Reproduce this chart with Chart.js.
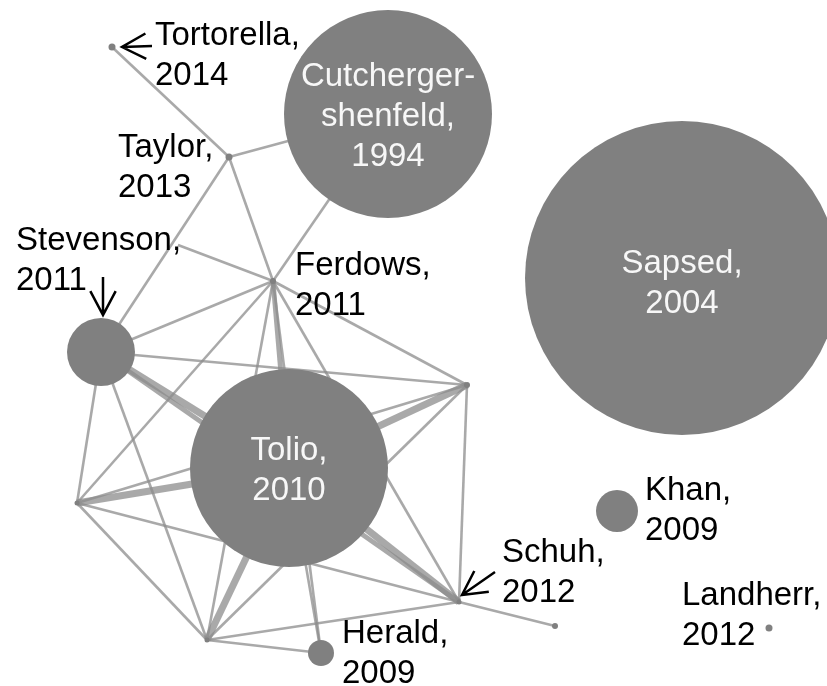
<!DOCTYPE html>
<html>
<head>
<meta charset="utf-8">
<title>Citation network</title>
<script src="https://cdn.jsdelivr.net/npm/chart.js@4.4.1/dist/chart.umd.min.js"></script>
<style>
    html, body { margin: 0; padding: 0; background: #fff; }
    canvas { display: block; }
</style>
</head>
<body>
<canvas id="network" width="827" height="686"></canvas>
<script>
// Nodes: author, year, layout position, bubble radius
var nodeNames = ["Tortorella", "Taylor", "Cutchergershenfeld", "Ferdows", "Stevenson", "Tolio", "n1", "n2", "n3", "Herald", "Schuh", "n4", "Khan", "Landherr", "Sapsed", "n5"];
var nodeYears = ["2014", "2013", "1994", "2011", "2011", "2010", "", "", "", "2009", "2012", "", "2009", "2012", "2004", ""];
var nodeX = [112, 229, 388, 273, 101, 289, 467, 77, 207, 321, 459, 555, 617, 769, 682, 178];
var nodeY = [47, 157, 114, 281, 352, 468, 385, 503, 640, 653, 602, 626, 511, 628, 278, 245];
var nodeSize = [3.5, 3.5, 104, 3, 34, 99, 3, 2.5, 2.5, 13, 2.5, 3, 21, 3.5, 157, 0];

// Links between nodes (index pairs) and how many links each pair has
var edgeFrom = [0, 1, 1, 1, 2, 15, 4, 3, 3, 3, 3, 3, 3, 4, 4, 4, 4, 4, 7, 7, 7, 7, 6, 6, 6, 10, 10, 10, 8, 8, 9];
var edgeTo = [1, 2, 4, 3, 3, 3, 3, 5, 6, 7, 8, 9, 10, 6, 5, 7, 8, 10, 5, 6, 8, 10, 5, 10, 8, 5, 8, 11, 5, 9, 5];
var edgeWeight = [1, 1, 1, 1, 1, 1, 1, 2, 1, 1, 1, 1, 1, 1, 3, 1, 1, 2, 3, 1, 1, 1, 3, 1, 1, 3, 1, 1, 3, 1, 1];

// Label placement (pixels, relative to the node centre)
var FONT = '33px "Liberation Sans", Arial, sans-serif';
var LINE_H = 40;
var outerLabels = {
    Tortorella: { dx: 43, dy: -2 },
    Taylor: { dx: -111, dy: 0 },
    Stevenson: { dx: -85, dy: -102 },
    Ferdows: { dx: 22, dy: -6 },
    Schuh: { dx: 43, dy: -40 },
    Herald: { dx: 21, dy: -10 },
    Khan: { dx: 28, dy: -11 },
    Landherr: { dx: -87, dy: -23 }
};
var innerLabels = {
    Cutchergershenfeld: { lines: ["Cutcherger-", "shenfeld,", "1994"], dy: 0 },
    Tolio: { lines: ["Tolio,", "2010"], dy: 0 },
    Sapsed: { lines: ["Sapsed,", "2004"], dy: 3 }
};
var arrows = {
    Tortorella: [40, -1, 10, 0],
    Stevenson: [2, -75, 2, -37],
    Schuh: [36, -30, 3, -7]
};

var nodePoints = nodeX.map(function (x, i) {
    return { x: x, y: nodeY[i], r: nodeSize[i] };
});

var datasets = [{
    type: 'bubble',
    data: nodePoints,
    backgroundColor: '#808080',
    borderWidth: 0,
    clip: false,
    order: 0
}];

edgeFrom.forEach(function (a, i) {
    var b = edgeTo[i];
    datasets.push({
        type: 'scatter',
        showLine: true,
        data: [{ x: nodeX[a], y: nodeY[a] }, { x: nodeX[b], y: nodeY[b] }],
        borderColor: 'rgba(140,140,140,0.75)',
        borderWidth: 2.6 + (edgeWeight[i] - 1) * 2.2,
        pointRadius: 0,
        order: 1
    });
});

function drawArrow(ctx, x1, y1, x2, y2) {
    var ang = Math.atan2(y2 - y1, x2 - x1);
    var len = 27, spread = 28 * Math.PI / 180;
    ctx.beginPath();
    ctx.moveTo(x1, y1);
    ctx.lineTo(x2, y2);
    ctx.moveTo(x2 - len * Math.cos(ang - spread), y2 - len * Math.sin(ang - spread));
    ctx.lineTo(x2, y2);
    ctx.lineTo(x2 - len * Math.cos(ang + spread), y2 - len * Math.sin(ang + spread));
    ctx.stroke();
}

var labelPlugin = {
    id: 'nodeLabels',
    afterDatasetsDraw: function (chart) {
        var ctx = chart.ctx;
        var sx = chart.scales.x, sy = chart.scales.y;
        ctx.save();
        ctx.font = FONT;
        ctx.textBaseline = 'alphabetic';
        nodeNames.forEach(function (name, i) {
            var px = sx.getPixelForValue(nodeX[i]);
            var py = sy.getPixelForValue(nodeY[i]);
            if (outerLabels[name]) {
                var o = outerLabels[name];
                ctx.fillStyle = '#000';
                ctx.textAlign = 'left';
                ctx.fillText(name + ',', px + o.dx, py + o.dy);
                ctx.fillText(nodeYears[i], px + o.dx, py + o.dy + LINE_H);
            }
            if (innerLabels[name]) {
                var l = innerLabels[name];
                var n = l.lines.length;
                ctx.fillStyle = '#f7f7f7';
                ctx.textAlign = 'center';
                l.lines.forEach(function (t, k) {
                    ctx.fillText(t, px, py + l.dy + 11.5 + (k - (n - 1) / 2) * LINE_H);
                });
            }
            if (arrows[name]) {
                var a = arrows[name];
                ctx.strokeStyle = '#000';
                ctx.lineWidth = 2.5;
                drawArrow(ctx, px + a[0], py + a[1], px + a[2], py + a[3]);
            }
        });
        ctx.restore();
    }
};

new Chart(document.getElementById('network').getContext('2d'), {
    type: 'bubble',
    data: { datasets: datasets },
    options: {
        responsive: false,
        animation: false,
        events: [],
        layout: { padding: 0, autoPadding: false },
        plugins: {
            legend: { display: false },
            tooltip: { enabled: false }
        },
        scales: {
            x: { type: 'linear', min: 0, max: 827, display: false },
            y: { type: 'linear', min: 0, max: 686, reverse: true, display: false }
        }
    },
    plugins: [labelPlugin]
});
</script>
</body>
</html>
